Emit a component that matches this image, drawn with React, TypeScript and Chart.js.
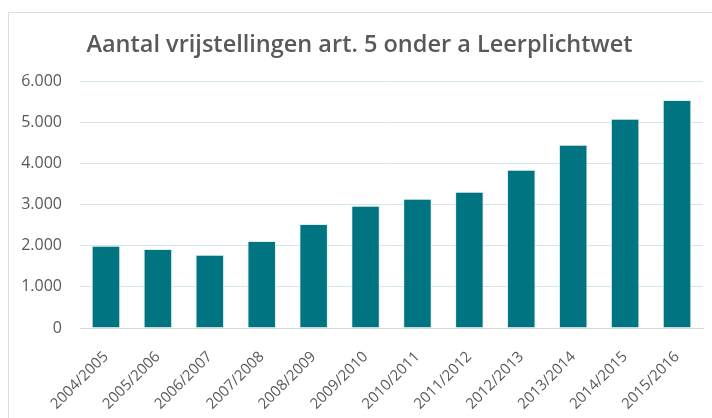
import React, { useEffect, useRef } from "react";
import { Chart, registerables } from "chart.js";

Chart.register(...registerables);

const categories = [
  "2004/2005", "2005/2006", "2006/2007", "2007/2008", "2008/2009", "2009/2010",
  "2010/2011", "2011/2012", "2012/2013", "2013/2014", "2014/2015", "2015/2016",
];
const values = [2000, 1920, 1780, 2115, 2530, 2975, 3140, 3315, 3845, 4455, 5090, 5545];
const yMax = 6000;
const yStep = 1000;
const titleText = "Aantal vrijstellingen art. 5 onder a Leerplichtwet";

const fmt = (v: number) => {
  const s = String(Math.round(v));
  return s.replace(/\B(?=(\d{3})+(?!\d))/g, ".");
};

export default function App() {
  const ref = useRef<HTMLCanvasElement | null>(null);
  useEffect(() => {
    if (!ref.current) return;
    const chart = new Chart(ref.current, {
      type: "bar",
      data: {
        labels: categories,
        datasets: [
          {
            data: values,
            backgroundColor: "#017482",
            borderColor: "rgba(220,238,240,0.9)",
            borderWidth: 1,
            barPercentage: 0.55,
            categoryPercentage: 1,
          },
        ],
      },
      options: {
        responsive: false,
        animation: false,
        layout: { padding: { left: 16, right: 9, top: 0, bottom: 0 } },
        plugins: {
          legend: { display: false },
          tooltip: { enabled: false },
          title: {
            display: true,
            text: titleText,
            color: "#595959",
            font: { family: "'Open Sans'", size: 23.5, weight: "600" },
            padding: { top: 31, bottom: 22 },
          },
        },
        scales: {
          x: {
            grid: { display: false },
            border: { display: true, color: "#d9d9d9", width: 1 },
            ticks: {
              color: "#595959",
              font: { family: "'Open Sans'", size: 15 },
              minRotation: 45,
              maxRotation: 45,
              padding: 12,
            },
            afterFit: (s: any) => {
              s.height = 90;
            },
          },
          y: {
            min: 0,
            max: yMax,
            grid: { color: "#d3e7ea", drawTicks: false, lineWidth: 1 },
            border: { display: false },
            ticks: {
              stepSize: yStep,
              color: "#595959",
              font: { family: "'Open Sans'", size: 16 },
              padding: 18,
              callback: (v: any) => fmt(Number(v)),
            },
            afterFit: (s: any) => {
              s.width = 64;
            },
          },
        },
      },
    });
    return () => chart.destroy();
  }, []);
  return (
    <div style={{ position: "fixed", left: 0, top: 0, width: 712, height: 418, overflow: "hidden", background: "#fff" }}>
      <div
        style={{
          position: "absolute",
          left: 8,
          top: 12,
          width: 760,
          height: 460,
          border: "1px solid #cfe2e6",
          boxSizing: "border-box",
        }}
      />
      <canvas ref={ref} width={712} height={418} style={{ position: "absolute", left: 0, top: 0 }} />
    </div>
  );
}
